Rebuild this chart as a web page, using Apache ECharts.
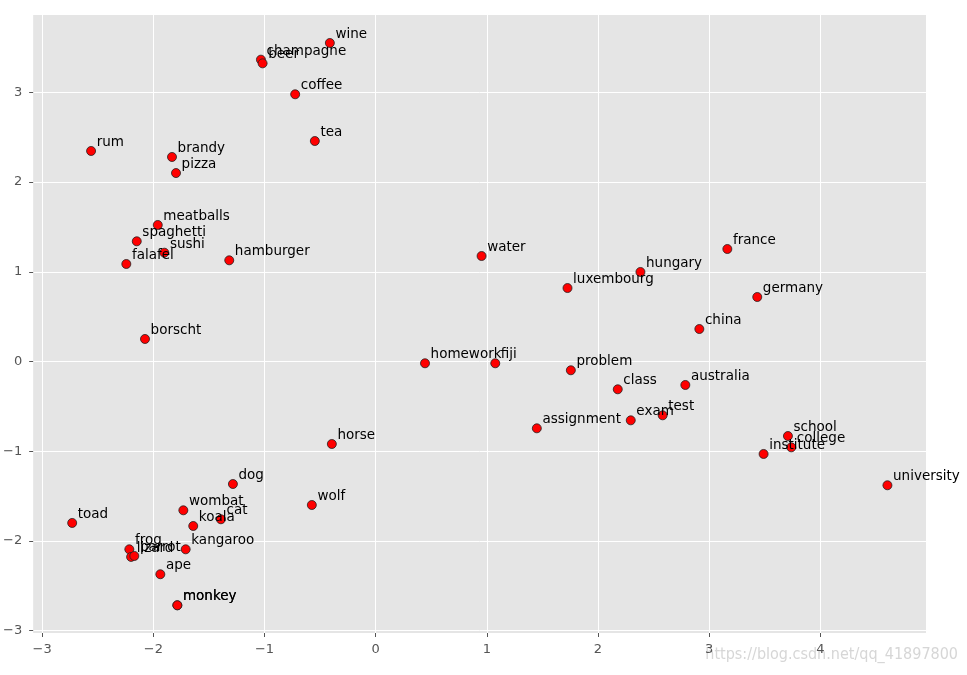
<!DOCTYPE html>
<html>
<head>
<meta charset="utf-8">
<script src="https://cdn.jsdelivr.net/npm/echarts@6/dist/echarts.min.js"></script>
<style>html,body{margin:0;padding:0;background:#fff;}#c{width:967px;height:675px;}</style>
</head>
<body>
<div id="c"></div>
<script>
var words = ["wine","champagne","beer","coffee","tea","rum","brandy","pizza","meatballs","spaghetti","sushi","falafel","hamburger","borscht","water","france","hungary","luxembourg","germany","china","homework","fiji","problem","class","assignment","exam","test","australia","school","college","institute","university","horse","dog","wolf","toad","wombat","koala","cat","kangaroo","frog","lizard","parrot","ape","monkey","monkey"];
var xs = [-0.412,-1.032,-1.017,-0.724,-0.547,-2.560,-1.832,-1.796,-1.960,-2.149,-1.901,-2.243,-1.317,-2.075,0.953,3.164,2.382,1.726,3.433,2.912,0.444,1.076,1.756,2.178,1.450,2.295,2.582,2.786,3.709,3.739,3.490,4.604,-0.394,-1.284,-0.574,-2.730,-1.730,-1.641,-1.392,-1.709,-2.216,-2.200,-2.171,-1.937,-1.784,-1.784];
var ys = [3.551,3.365,3.324,2.979,2.458,2.347,2.280,2.101,1.522,1.340,1.213,1.087,1.128,0.251,1.176,1.254,0.998,0.819,0.719,0.362,-0.020,-0.020,-0.098,-0.310,-0.745,-0.656,-0.600,-0.262,-0.831,-0.957,-1.031,-1.380,-0.920,-1.366,-1.600,-1.800,-1.659,-1.834,-1.759,-2.094,-2.094,-2.179,-2.168,-2.372,-2.718,-2.718];
var xTicks = [-3,-2,-1,0,1,2,3,4];
var yTicks = [-3,-2,-1,0,1,2,3];

var data = words.map(function(w,i){ return {name:w, value:[xs[i], ys[i]]}; });
function fmt(v){ return String(v).replace('-', '\u2212'); }

var chart = echarts.init(document.getElementById('c'), null, {renderer:'canvas'});
chart.setOption({
  animation:false,
  backgroundColor:'#ffffff',
  grid:{left:32, right:41, top:15, bottom:42, show:true, backgroundColor:'#E5E5E5', borderWidth:0},
  xAxis:{
    type:'value', min:-3.081, max:4.951, minInterval:1, maxInterval:1,
    axisLine:{show:false, onZero:false},
    axisTick:{show:true, customValues:xTicks, length:4, lineStyle:{color:'#555', width:1}},
    axisLabel:{customValues:xTicks, formatter:fmt, color:'#555', fontSize:13, fontFamily:'DejaVu Sans', margin:10},
    splitLine:{show:true, lineStyle:{color:'#ffffff', width:1}}
  },
  yAxis:{
    type:'value', min:-3.027, max:3.863, minInterval:1, maxInterval:1,
    axisLine:{show:false, onZero:false},
    axisTick:{show:true, customValues:yTicks, length:4, lineStyle:{color:'#555', width:1}},
    axisLabel:{customValues:yTicks, formatter:fmt, color:'#555', fontSize:13, fontFamily:'DejaVu Sans', margin:11},
    splitLine:{show:true, lineStyle:{color:'#ffffff', width:1}}
  },
  series:[{
    type:'scatter',
    clip:false,
    symbol:'circle',
    symbolSize:9,
    itemStyle:{color:'#ff0000', borderColor:'#222', borderWidth:0.8, opacity:1},
    label:{show:true, position:[10.5,-3.5], align:'left', verticalAlign:'middle', formatter:'{b}', color:'#000', fontSize:13.5, fontFamily:'DejaVu Sans'},
    labelLayout:{hideOverlap:false},
    data:data
  }],
  graphic:[{
    type:'text', right:9, top:647,
    style:{text:'https://blog.csdn.net/qq_41897800', fill:'rgba(200,200,200,0.75)', font:'16px "Liberation Sans Narrow", "DejaVu Sans Condensed", sans-serif'}
  }]
});
</script>
</body>
</html>
